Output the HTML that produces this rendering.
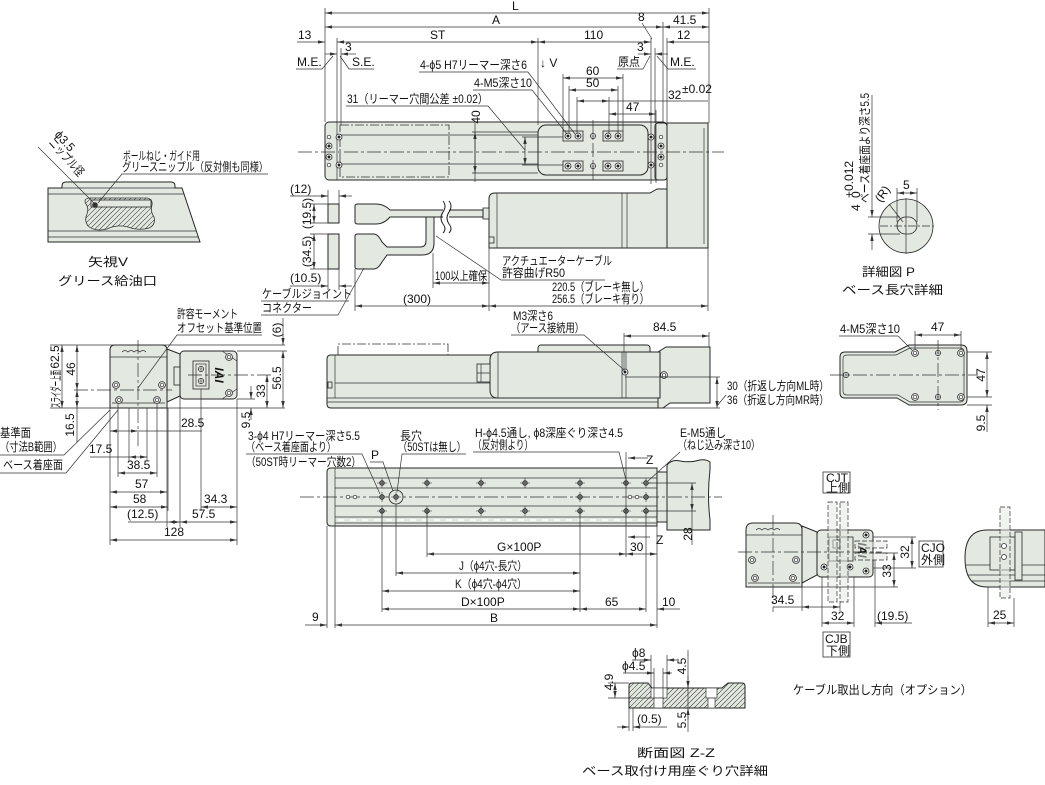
<!DOCTYPE html>
<html><head><meta charset="utf-8"><title>drawing</title>
<style>
html,body{margin:0;padding:0;background:#fff;}
svg{display:block;}
text{font-family:"Liberation Sans","Noto Sans CJK JP",sans-serif;font-size:12px;fill:#111;}
.o{fill:#e3e8e1;stroke:#262626;stroke-width:1;}
.o2{fill:#e3e8e1;stroke:#262626;stroke-width:0.8;}
.l{fill:none;stroke:#333;stroke-width:0.7;}
.k{fill:none;stroke:#222;stroke-width:1;}
.c{fill:none;stroke:#333;stroke-width:0.7;stroke-dasharray:14 3 3 3;}
.h{fill:#e3e8e1;fill-opacity:0.5;stroke:#333;stroke-width:0.7;stroke-dasharray:5 2;}
.d{fill:none;stroke:#333;stroke-width:0.7;marker-start:url(#a);marker-end:url(#a);}
.e{fill:none;stroke:#333;stroke-width:0.7;marker-end:url(#a);}
.bx{fill:#fff;stroke:#333;stroke-width:0.8;}
</style></head><body>
<svg width="1045" height="785" viewBox="0 0 1045 785" xmlns="http://www.w3.org/2000/svg">
<defs>
<marker id="a" viewBox="0 0 10 6" refX="10" refY="3" markerWidth="7" markerHeight="4.2" orient="auto-start-reverse" markerUnits="userSpaceOnUse"><path d="M0,0.6 L10,3 L0,5.4z" fill="#333"/></marker>
<clipPath id="cz"><path d="M629,708V686Q629,683 632,683H648L652,688H722L728,683H742Q745,683 745,686V708Z"/></clipPath>
<clipPath id="cv"><path d="M86,204Q83,199 89,198H147Q153,199 152,205Q150,211 154,217Q156,225 149,228Q139,231 128,227Q117,224 107,229Q95,232 88,226Q84,220 87,214Q89,208 86,204Z"/></clipPath>
<g id="p"><circle r="2.6" fill="#fff" stroke="#222" stroke-width="0.7"/><path d="M-2.6,0H2.6M0,-2.6V2.6" stroke="#222" stroke-width="0.6"/></g>
<g id="q"><circle r="3" fill="#fff" stroke="#222" stroke-width="0.8"/><circle r="1.5" fill="#222"/></g>
<g id="r"><circle r="3.4" fill="#fff" stroke="#222" stroke-width="0.8"/><circle r="1.8" fill="none" stroke="#222" stroke-width="0.7"/></g>
<g id="m"><path d="M-5,0H5M0,-5V5" stroke="#333" stroke-width="0.6"/><circle r="2.4" fill="#666" stroke="#222" stroke-width="0.6"/></g>
<g id="s"><circle r="1.8" fill="#fff" stroke="#222" stroke-width="0.7"/></g>
</defs>
<rect width="1045" height="785" fill="#fff"/>

<!-- ================= TOP VIEW ================= -->
<path class="o" d="M489,248V199Q489,193 495,193H650L657,189H667V248Z"/>
<path class="l" d="M497,193V248 M622,193V248 M627,193V248"/>
<rect class="o2" x="489" y="237" width="5" height="6"/>
<rect class="o2" x="483" y="208" width="6" height="11"/>
<rect class="o" x="667" y="123" width="41" height="125"/>
<path class="l" d="M704,128V244"/>
<rect class="o" x="325" y="122" width="342" height="58" rx="4"/>
<path class="l" d="M337,122V180 M337,135H538 M337,164H538 M651,118V184"/>
<rect x="340" y="125" width="109" height="52" fill="none" stroke="#333" stroke-width="0.8" stroke-dasharray="9 2 2 2"/>
<rect class="o" x="538" y="125" width="110" height="50" rx="8"/>
<rect class="o" x="655" y="123" width="12" height="57" rx="3"/>
<use href="#s" x="329" y="137"/><use href="#q" x="329" y="146"/><use href="#q" x="329" y="157"/><use href="#s" x="329" y="165"/>
<use href="#q" x="339" y="137"/><use href="#q" x="339" y="165"/>
<use href="#q" x="651" y="137"/><use href="#q" x="651" y="165"/>
<use href="#s" x="661" y="137"/><use href="#q" x="661" y="146"/><use href="#q" x="661" y="157"/><use href="#s" x="661" y="165"/>
<rect class="o2" x="563" y="131" width="20" height="10"/><use href="#q" x="568" y="136"/><use href="#q" x="578" y="136"/>
<rect class="o2" x="603" y="131" width="20" height="10"/><use href="#q" x="608" y="136"/><use href="#q" x="618" y="136"/>
<rect class="o2" x="563" y="161" width="20" height="10"/><use href="#q" x="568" y="166"/><use href="#q" x="578" y="166"/>
<rect class="o2" x="603" y="161" width="20" height="10"/><use href="#q" x="608" y="166"/><use href="#q" x="618" y="166"/>
<use href="#p" x="593" y="136"/><use href="#p" x="593" y="166"/>
<line class="c" x1="298" y1="152" x2="724" y2="152"/>
<line class="c" x1="593" y1="120" x2="593" y2="183"/>

<path class="l" d="M325,8V122 M709,8V123 M663,22V122 M337,38V122 M341,48V125 M538,38V125 M651,38V118 M655,48V123 M667,38V123"/>
<line class="d" x1="325" y1="13" x2="709" y2="13"/>
<line class="d" x1="325" y1="27" x2="663" y2="27"/>
<line class="d" x1="663" y1="27" x2="709" y2="27"/>
<line class="e" x1="297" y1="42" x2="325" y2="42"/>
<line class="d" x1="337" y1="42" x2="538" y2="42"/>
<line class="d" x1="538" y1="42" x2="651" y2="42"/>
<line class="e" x1="709" y1="42" x2="667" y2="42"/>
<line class="e" x1="325" y1="54" x2="337" y2="54"/>
<line class="e" x1="356" y1="54" x2="341" y2="54"/>
<line class="e" x1="638" y1="54" x2="651" y2="54"/>
<line class="e" x1="668" y1="54" x2="655" y2="54"/>
<text x="512" y="10">L</text>
<text x="492" y="24">A</text>
<text x="673" y="24">41.5</text>
<text x="638" y="21">8</text>
<path class="l" d="M642,23L652,39"/>
<text x="298" y="39">13</text>
<text x="430" y="39">ST</text>
<text x="584" y="39">110</text>
<text x="677" y="39">12</text>
<text x="345" y="51">3</text>
<text x="637" y="51">3</text>
<text x="297" y="66" font-size="11">M.E.</text>
<path class="l" d="M296,69H322L333,56"/>
<text x="352" y="66" font-size="11">S.E.</text>
<path class="l" d="M374,69H349L340,56"/>
<text x="618" y="66" textLength="22" lengthAdjust="spacingAndGlyphs">原点</text>
<path class="l" d="M617,69H643L650,56"/>
<text x="670" y="66" font-size="11">M.E.</text>
<path class="l" d="M696,69H668L657,56"/>
<text x="540" y="67" font-size="15">↓ V</text>
<text x="420" y="69" font-size="11.5" textLength="107" lengthAdjust="spacingAndGlyphs">4-ϕ5 H7リーマー深さ6</text>
<path class="l" d="M419,72H528L575,134"/>
<text x="474" y="87" font-size="11.5" textLength="58" lengthAdjust="spacingAndGlyphs">4-M5深さ10</text>
<path class="l" d="M473,90H532L567,134"/>
<text x="347" y="103" font-size="11.5" textLength="141" lengthAdjust="spacingAndGlyphs">31（リーマー穴間公差 ±0.02）</text>
<path class="l" d="M346,106H488L525,150"/>
<path class="l" d="M563,74V131 M623,74V131 M569,86V133 M618,86V133 M577,97V133 M609,97V133 M656,110V183"/>
<line class="d" x1="563" y1="78" x2="623" y2="78"/>
<text x="586" y="75">60</text>
<line class="d" x1="569" y1="90" x2="618" y2="90"/>
<text x="586" y="87">50</text>
<line class="d" x1="577" y1="101" x2="609" y2="101"/>
<path class="l" d="M609,101H708"/>
<text x="668" y="99">32</text><text x="682" y="93" font-size="6.5">±0.02</text>
<line class="d" x1="609" y1="114" x2="656" y2="114"/>
<text x="626" y="111">47</text>
<path class="l" d="M472,132H538 M472,173H538 M475,123V182"/>
<line class="d" x1="475" y1="132" x2="475" y2="173"/>
<text transform="translate(480,117) rotate(-90)" text-anchor="middle">40</text>
<path class="l" d="M522,137H563 M522,165H563"/>
<line class="d" x1="525" y1="137" x2="525" y2="165"/>

<!-- ================= CABLE / CONNECTORS ================= -->
<path class="o" d="M355,206Q355,204 358,204H376Q384,204 390,210H483V217H390Q384,224 376,224H358Q355,224 355,222Z"/>
<path class="o" d="M355,236Q355,234 358,234H374Q378,234 382,242L387,247H420Q426,247 426,241V217H434V243Q434,255 422,255H387L382,262Q378,269 374,269H358Q355,269 355,267Z"/>
<rect x="443" y="207" width="6" height="13" fill="#fff"/>
<path class="k" d="M443,201Q447,206 443,212Q439,218 443,224Q447,229 443,233 M449,201Q453,206 449,212Q445,218 449,224Q453,229 449,233"/>
<rect class="o" x="328" y="204" width="11" height="19"/>
<rect class="o" x="328" y="234" width="11" height="35"/>
<path class="l" d="M328,190V204 M339,190V204 M310,204H328 M310,223H328 M310,234H328 M310,269H328 M328,269V290 M339,269V290"/>
<line class="e" x1="290" y1="196" x2="328" y2="196"/>
<line class="e" x1="352" y1="196" x2="339" y2="196"/>
<text x="290" y="193">(12)</text>
<line class="d" x1="314" y1="204" x2="314" y2="223"/>
<line class="d" x1="314" y1="234" x2="314" y2="269"/>
<text transform="translate(311,213.5) rotate(-90)" text-anchor="middle" font-size="9">(19.5)</text>
<text transform="translate(311,251.5) rotate(-90)" text-anchor="middle">(34.5)</text>
<line class="e" x1="290" y1="286" x2="328" y2="286"/>
<line class="e" x1="352" y1="286" x2="339" y2="286"/>
<text x="290" y="282">(10.5)</text>
<text x="262" y="298" font-size="11.5" textLength="90" lengthAdjust="spacingAndGlyphs">ケーブルジョイント</text>
<text x="262" y="312" font-size="11.5" textLength="50" lengthAdjust="spacingAndGlyphs">コネクター</text>
<path class="l" d="M261,301H349 M261,315H338L364,268"/>
<path class="l" d="M433,253V288 M489,248V311 M708,248V311 M355,269V311"/>
<line class="d" x1="433" y1="283" x2="489" y2="283"/>
<text x="435" y="280" font-size="10" textLength="52" lengthAdjust="spacingAndGlyphs">100以上確保</text>
<text x="502" y="265" font-size="11.5" textLength="110" lengthAdjust="spacingAndGlyphs">アクチュエーターケーブル</text>
<text x="502" y="277" font-size="11.5" textLength="63" lengthAdjust="spacingAndGlyphs">許容曲げR50</text>
<path class="l" d="M605,280H501L436,236"/>
<line class="d" x1="355" y1="306" x2="489" y2="306"/>
<text x="403" y="303">(300)</text>
<line class="d" x1="489" y1="306" x2="708" y2="306"/>
<text x="552" y="291" font-size="11.5" textLength="97" lengthAdjust="spacingAndGlyphs">220.5（ブレーキ無し）</text>
<text x="552" y="303" font-size="11.5" textLength="97" lengthAdjust="spacingAndGlyphs">256.5（ブレーキ有り）</text>

<!-- ================= LOWER SIDE VIEW ================= -->
<path d="M338,355V344H448V355" fill="none" stroke="#333" stroke-width="0.8" stroke-dasharray="9 2 2 2"/>
<path class="o" d="M331,355H658V408H331Q327,408 327,404V359Q327,355 331,355Z"/>
<path class="l" d="M335,355V398 M335,383H490"/>
<rect class="o2" x="328" y="382" width="4" height="6"/>
<rect class="o" x="538" y="345" width="112" height="10" rx="3"/>
<path class="o" d="M658,352L666,347H710V403H670L663,408H658Z"/>
<path class="o" d="M498,352H660V398H498Q490,398 490,390V360Q490,352 498,352Z"/>
<path class="l" d="M498,352V398 M622,352V398 M626,352V398 M327,398H658 M327,402H658"/>
<rect class="o2" x="477" y="364" width="13" height="18"/>
<path class="l" d="M481,364V382 M477,373H490"/>
<use href="#q" x="625" y="372"/>
<use href="#r" x="664" y="375"/>
<path class="l" d="M624,333V372 M709,332V347 M625,377H720 M658,408H720"/>
<line class="d" x1="624" y1="336" x2="709" y2="336"/>
<text x="653" y="331">84.5</text>
<text x="513" y="320" font-size="11.5" textLength="40" lengthAdjust="spacingAndGlyphs">M3深さ6</text>
<text x="511" y="332" font-size="11.5" textLength="73" lengthAdjust="spacingAndGlyphs">（アース接続用）</text>
<path class="l" d="M511,335H584L623,369"/>
<line class="d" x1="717" y1="377" x2="717" y2="408"/>
<path class="l" d="M717,406L726,395"/>
<text x="727" y="390" font-size="11.5" textLength="102" lengthAdjust="spacingAndGlyphs">30（折返し方向ML時）</text>
<text x="727" y="404" font-size="11.5" textLength="102" lengthAdjust="spacingAndGlyphs">36（折返し方向MR時）</text>

<!-- ================= VIEW V ================= -->
<path class="o" d="M48,188H62V186Q62,182 66,182H171Q175,182 175,186V188H182L200,242H48Z"/>
<path class="l" d="M48,194H184 M48,231H196 M48,237H198 M62,188H175"/>
<path fill="#e3e8e1" d="M86,204Q83,199 89,198H147Q153,199 152,205Q150,211 154,217Q156,225 149,228Q139,231 128,227Q117,224 107,229Q95,232 88,226Q84,220 87,214Q89,208 86,204Z"/>
<g clip-path="url(#cv)"><path stroke="#444" stroke-width="0.6" fill="none" d="M50,234l36,-36M55,234l36,-36M60,234l36,-36M65,234l36,-36M70,234l36,-36M75,234l36,-36M80,234l36,-36M85,234l36,-36M90,234l36,-36M95,234l36,-36M100,234l36,-36M105,234l36,-36M110,234l36,-36M115,234l36,-36M120,234l36,-36M125,234l36,-36M130,234l36,-36M135,234l36,-36M140,234l36,-36M145,234l36,-36M150,234l36,-36"/></g>
<path fill="none" stroke="#333" stroke-width="0.8" d="M86,204Q83,199 89,198H147Q153,199 152,205Q150,211 154,217Q156,225 149,228Q139,231 128,227Q117,224 107,229Q95,232 88,226Q84,220 87,214Q89,208 86,204Z"/>
<rect class="o2" x="91" y="200" width="60" height="7"/>
<circle cx="95" cy="205" r="2.8" fill="#333"/>
<path class="l" d="M38,147L94,203 M268,174H122L98,203"/>
<text transform="translate(54,135) rotate(48)" font-size="10">ϕ3.5</text>
<text transform="translate(48,143) rotate(48)" font-size="10" textLength="46" lengthAdjust="spacingAndGlyphs">ニップル径</text>
<text x="123" y="160" font-size="11" textLength="77" lengthAdjust="spacingAndGlyphs">ボールねじ・ガイド用</text>
<text x="122" y="171" font-size="11" textLength="146" lengthAdjust="spacingAndGlyphs">グリースニップル（反対側も同様）</text>
<text x="88" y="266" font-size="15" textLength="40" lengthAdjust="spacingAndGlyphs">矢視V</text>
<text x="58" y="285" font-size="14.5" textLength="99" lengthAdjust="spacingAndGlyphs">グリース給油口</text>

<!-- ================= LEFT END VIEW ================= -->
<path class="o" d="M110,408V350Q110,345 115,345H162Q167,345 167,350V408Z"/>
<path class="l" d="M110,357H167 M112,403H165"/>
<path class="l" d="M122,352q3,-3 6,0q3,-3 6,0q3,-3 6,0q3,-3 6,0"/>
<path class="o" d="M167,349L180,354V396L167,402Z"/>
<rect class="o2" x="174" y="367" width="6" height="18"/>
<rect class="o" x="180" y="351" width="57" height="48" rx="4"/>
<path class="l" d="M222,351L237,361 M222,399L237,389"/>
<rect class="o2" x="193" y="361" width="16" height="28"/>
<rect x="196" y="364" width="10" height="22" fill="none" stroke="#333" stroke-width="0.7"/>
<use href="#p" x="201" y="369"/><use href="#p" x="201" y="381"/>
<text transform="translate(215,375) rotate(90)" text-anchor="middle" font-weight="bold" font-style="italic" font-size="9">IAI</text>
<use href="#r" x="229" y="357"/><use href="#r" x="229" y="393"/>
<use href="#r" x="116" y="385"/><use href="#r" x="162" y="385"/><use href="#r" x="119" y="400"/><use href="#r" x="157" y="400"/>
<line class="c" x1="138" y1="340" x2="138" y2="447"/>
<line class="c" x1="74" y1="390" x2="172" y2="390"/>
<line class="c" x1="188" y1="375" x2="272" y2="375"/>
<path class="l" d="M50,345H285 M50,408H110 M167,408H285 M237,351H287 M237,399H255"/>
<line class="d" x1="62" y1="345" x2="62" y2="408"/>
<line class="d" x1="77" y1="345" x2="77" y2="390"/>
<line class="d" x1="77" y1="390" x2="77" y2="408"/>
<line class="l" x1="77" y1="408" x2="77" y2="442"/>
<text transform="translate(59,357) rotate(-90)" text-anchor="middle" font-size="11">62.5</text>
<text transform="translate(60,389) rotate(-90)" text-anchor="middle" font-size="8.5" textLength="38" lengthAdjust="spacingAndGlyphs">スライダー上面</text>
<text transform="translate(75,369) rotate(-90)" text-anchor="middle">46</text>
<text transform="translate(74,425) rotate(-90)" text-anchor="middle">16.5</text>
<line class="e" x1="283" y1="318" x2="283" y2="345"/>
<line class="d" x1="283" y1="351" x2="283" y2="408"/>
<line class="d" x1="267" y1="375" x2="267" y2="408"/>
<line class="e" x1="251" y1="386" x2="251" y2="399"/>
<line class="e" x1="251" y1="420" x2="251" y2="408"/>
<text transform="translate(281,330) rotate(-90)" text-anchor="middle" font-size="10">(6)</text>
<text transform="translate(281,378) rotate(-90)" text-anchor="middle">56.5</text>
<text transform="translate(265,391) rotate(-90)" text-anchor="middle">33</text>
<text transform="translate(250,420) rotate(-90)" text-anchor="middle">9.5</text>
<text x="177" y="318" font-size="11" textLength="61" lengthAdjust="spacingAndGlyphs">許容モーメント</text>
<text x="177" y="332" font-size="11" textLength="85" lengthAdjust="spacingAndGlyphs">オフセット基準位置</text>
<path class="l" d="M262,335H177L138,388"/>
<text x="0" y="437" font-size="11.5" textLength="31" lengthAdjust="spacingAndGlyphs">基準面</text>
<text x="0" y="451" font-size="11.5" textLength="62" lengthAdjust="spacingAndGlyphs">（寸法B範囲）</text>
<path class="l" d="M0,455H64L110,410"/>
<text x="3" y="469" font-size="11.5" textLength="60" lengthAdjust="spacingAndGlyphs">ベース着座面</text>
<path class="l" d="M0,473H66L118,410"/>
<path class="l" d="M110,408V545 M118,403V477 M129,408V461 M147,408V461 M157,403V477 M167,408V527 M168,408V511 M180,396V527 M201,389V511 M237,399V545"/>
<line class="d" x1="110" y1="431" x2="138" y2="431"/>
<path class="l" d="M138,431H202"/>
<text x="181" y="427">28.5</text>
<path class="l" d="M90,457H129"/>
<line class="d" x1="129" y1="457" x2="147" y2="457"/>
<text x="89" y="453">17.5</text>
<line class="d" x1="118" y1="473" x2="157" y2="473"/>
<text x="127" y="469">38.5</text>
<line class="d" x1="110" y1="492" x2="167" y2="492"/>
<text x="135" y="488">57</text>
<line class="d" x1="110" y1="507" x2="168" y2="507"/>
<text x="133" y="503">58</text>
<line class="d" x1="201" y1="507" x2="237" y2="507"/>
<text x="204" y="503">34.3</text>
<path class="l" d="M128,522H168"/>
<line class="d" x1="168" y1="522" x2="180" y2="522"/>
<text x="127" y="518">(12.5)</text>
<line class="d" x1="180" y1="522" x2="237" y2="522"/>
<text x="192" y="518">57.5</text>
<line class="d" x1="110" y1="540" x2="237" y2="540"/>
<text x="164" y="536">128</text>

<!-- ================= BOTTOM VIEW ================= -->
<path class="o" d="M667,530V465Q672,459 680,461Q690,463 700,460Q706,459 710,462V470Q707,495 710,520V530Z"/>
<rect class="o" x="657" y="472" width="10" height="50"/>
<path class="o" d="M331,468H657V526H331Q327,526 327,522V472Q327,468 331,468Z"/>
<path class="l" d="M335,468V526 M335,478H657 M335,488H657 M335,506H657 M335,517H657 M335,523H657"/>
<line x1="338" y1="520" x2="655" y2="520" stroke="#fff" stroke-width="1.6" stroke-dasharray="6 6"/>
<line class="c" x1="300" y1="497" x2="722" y2="497"/>
<use href="#m" x="382" y="483"/><use href="#m" x="427" y="483"/><use href="#m" x="481" y="483"/><use href="#m" x="525" y="483"/><use href="#m" x="580" y="483"/><use href="#m" x="626" y="483"/><use href="#m" x="646" y="483"/>
<use href="#m" x="382" y="511"/><use href="#m" x="427" y="511"/><use href="#m" x="481" y="511"/><use href="#m" x="525" y="511"/><use href="#m" x="580" y="511"/><use href="#m" x="626" y="511"/><use href="#m" x="646" y="511"/>
<use href="#s" x="348" y="497"/><use href="#s" x="355" y="497"/><use href="#s" x="630" y="497"/><use href="#s" x="637" y="497"/>
<use href="#m" x="382" y="497"/><use href="#m" x="580" y="497"/><use href="#m" x="646" y="497"/>
<circle cx="396" cy="497" r="7" fill="#e3e8e1" stroke="#222" stroke-width="0.8"/>
<use href="#m" x="396" y="497"/>
<path class="l" d="M382,511V612 M396,504V576 M427,511V557 M580,511V612 M646,511V612 M657,526V628 M327,526V628 M335,526V628"/>
<path class="l" d="M626,452V557"/>
<line class="e" x1="648" y1="458" x2="628" y2="458"/>
<line class="e" x1="650" y1="537" x2="628" y2="537"/>
<text x="646" y="464" font-size="17">Z</text>
<text x="656" y="544" font-size="17">Z</text>
<path class="l" d="M648,483H696 M648,511H696"/>
<line class="d" x1="692" y1="483" x2="692" y2="511"/>
<line class="l" x1="692" y1="511" x2="692" y2="545"/>
<text transform="translate(692,534) rotate(-90)" text-anchor="middle">28</text>
<line class="d" x1="427" y1="554" x2="626" y2="554"/>
<text x="497" y="551">G×100P</text>
<line class="d" x1="626" y1="554" x2="657" y2="554"/>
<text x="630" y="551">30</text>
<line class="d" x1="396" y1="573" x2="580" y2="573"/>
<text x="459" y="570" textLength="68" lengthAdjust="spacingAndGlyphs">J（ϕ4穴-長穴）</text>
<line class="d" x1="382" y1="591" x2="580" y2="591"/>
<text x="455" y="588" textLength="72" lengthAdjust="spacingAndGlyphs">K（ϕ4穴-ϕ4穴）</text>
<line class="d" x1="382" y1="609" x2="580" y2="609"/>
<text x="461" y="606">D×100P</text>
<line class="d" x1="580" y1="609" x2="646" y2="609"/>
<text x="605" y="606">65</text>
<line class="e" x1="680" y1="609" x2="657" y2="609"/>
<text x="662" y="606">10</text>
<line class="d" x1="335" y1="625" x2="657" y2="625"/>
<text x="490" y="622">B</text>
<line class="e" x1="305" y1="625" x2="327" y2="625"/>
<text x="312" y="621">9</text>
<text x="248" y="440" font-size="11.5" textLength="112" lengthAdjust="spacingAndGlyphs">3-ϕ4 H7リーマー深さ5.5</text>
<text x="246" y="451" font-size="11.5" textLength="90" lengthAdjust="spacingAndGlyphs">（ベース着座面より）</text>
<path class="l" d="M246,454H336"/>
<text x="246" y="466" font-size="11.5" textLength="115" lengthAdjust="spacingAndGlyphs">（50ST時リーマー穴数2）</text>
<path class="l" d="M336,454H362L380,494"/>
<text x="371" y="459" font-size="17">P</text>
<path class="l" d="M370,462H383L393,491"/>
<text x="400" y="440" font-size="11.5" textLength="22" lengthAdjust="spacingAndGlyphs">長穴</text>
<text x="398" y="451" font-size="11.5" textLength="68" lengthAdjust="spacingAndGlyphs">（50STは無し）</text>
<path class="l" d="M466,454H402L397,492"/>
<text x="475" y="437" font-size="11.5" textLength="148" lengthAdjust="spacingAndGlyphs">H-ϕ4.5通し, ϕ8深座ぐり深さ4.5</text>
<text x="473" y="449" font-size="11.5" textLength="60" lengthAdjust="spacingAndGlyphs">（反対側より）</text>
<path class="l" d="M473,452H619L626,480"/>
<text x="680" y="437" font-size="11.5" textLength="46" lengthAdjust="spacingAndGlyphs">E-M5通し</text>
<text x="678" y="449" font-size="11.5" textLength="82" lengthAdjust="spacingAndGlyphs">（ねじ込み深さ10）</text>
<path class="l" d="M680,452L648,481"/>

<!-- ================= DETAIL P ================= -->
<circle cx="906" cy="226" r="27" class="o2"/>
<rect x="897" y="217" width="20" height="17" rx="8.5" fill="#e3e8e1" stroke="#222" stroke-width="0.8"/>
<line class="l" x1="906" y1="198" x2="906" y2="254"/>
<line class="c" x1="880" y1="226" x2="934" y2="226" style="stroke-dasharray:8 2 2 2"/>
<path class="l" d="M897,188V222 M917,188V222 M868,217H900 M868,234H900"/>
<line class="d" x1="897" y1="193" x2="917" y2="193"/>
<text x="903" y="189">5</text>
<line class="l" x1="872" y1="95" x2="872" y2="200"/>
<line class="e" x1="872" y1="200" x2="872" y2="217"/>
<line class="e" x1="872" y1="250" x2="872" y2="234"/>
<text transform="translate(869,203) rotate(-90)" font-size="10.5" textLength="110" lengthAdjust="spacingAndGlyphs">ベース着座面より深さ5.5</text>
<text transform="translate(860,211) rotate(-90)">4</text>
<text transform="translate(853,198) rotate(-90)" font-size="6">+0.012</text>
<text transform="translate(860,198) rotate(-90)" font-size="6">0</text>
<text transform="translate(881,203) rotate(-55)" font-size="9">(R)</text>
<path class="l" d="M889,204L903,222"/>
<text x="862" y="276" font-size="14" textLength="53" lengthAdjust="spacingAndGlyphs">詳細図 P</text>
<text x="842" y="294" font-size="14.5" textLength="101" lengthAdjust="spacingAndGlyphs">ベース長穴詳細</text>

<!-- ================= RIGHT END VIEW ================= -->
<path class="o" d="M845,352H895L909,345H961Q967,345 967,351V399Q967,405 961,405H909L897,398H845Q840,398 840,393V357Q840,352 845,352Z"/>
<path class="l" d="M847,355H896L910,348H960Q964,348 964,352V398Q964,402 960,402H910L898,395H847Q843,395 843,391V359Q843,355 847,355Z"/>
<use href="#r" x="915" y="353"/><use href="#r" x="961" y="353"/><use href="#r" x="915" y="397"/><use href="#r" x="961" y="397"/>
<use href="#p" x="938" y="353"/><use href="#p" x="938" y="397"/><use href="#p" x="846" y="375"/>
<line class="c" x1="830" y1="375" x2="978" y2="375"/>
<line class="c" x1="938" y1="340" x2="938" y2="410"/>
<path class="l" d="M915,331V349 M961,331V349 M967,352H992 M967,397H992 M967,405H992"/>
<line class="d" x1="915" y1="335" x2="961" y2="335"/>
<text x="931" y="331">47</text>
<line class="d" x1="987" y1="352" x2="987" y2="397"/>
<line class="e" x1="987" y1="432" x2="987" y2="405"/>
<text transform="translate(985,375) rotate(-90)" text-anchor="middle">47</text>
<text transform="translate(985,423) rotate(-90)" text-anchor="middle">9.5</text>
<text x="840" y="333" font-size="11.5" textLength="60" lengthAdjust="spacingAndGlyphs">4-M5深さ10</text>
<path class="l" d="M839,336H898L912,350"/>

<!-- ================= CABLE OPTION VIEW ================= -->
<path class="o" d="M746,587V530Q746,523 753,523H795Q802,523 802,530V587Z"/>
<path class="l" d="M746,535H802 M748,583H800"/>
<path class="l" d="M756,530q3,-3 6,0q3,-3 6,0q3,-3 6,0q3,-3 6,0"/>
<path class="o" d="M802,526L817,532V575L802,583Z"/>
<rect class="o" x="817" y="530" width="56" height="47" rx="4"/>
<rect class="o2" x="829" y="537" width="24" height="24"/>
<rect class="o2" x="833" y="540" width="7" height="8"/>
<text transform="translate(858,550) rotate(90)" text-anchor="middle" font-weight="bold" font-style="italic" font-size="8">IAI</text>
<use href="#r" x="752" y="560"/><use href="#r" x="796" y="560"/><use href="#r" x="755" y="578"/><use href="#r" x="793" y="578"/>
<use href="#q" x="866" y="535"/><use href="#q" x="866" y="571"/><use href="#q" x="824" y="567"/><use href="#q" x="850" y="567"/>
<rect class="h" x="828" y="502" width="9" height="100"/>
<rect class="h" x="840" y="502" width="8" height="100"/>
<rect class="h" x="855" y="541" width="32" height="7"/>
<rect class="h" x="855" y="553" width="32" height="7"/>
<line class="c" x1="738" y1="552" x2="882" y2="552"/>
<line class="c" x1="773" y1="515" x2="773" y2="612"/>
<rect class="bx" x="823" y="472" width="27" height="21"/>
<text x="826" y="482" font-size="10">CJT</text><text x="826" y="492" font-size="10">上側</text>
<rect class="bx" x="823" y="632" width="27" height="25"/>
<text x="825" y="643" font-size="10">CJB</text><text x="826" y="655" font-size="10">下側</text>
<rect class="bx" x="919" y="541" width="24" height="26"/>
<text x="921" y="552" font-size="10">CJO</text><text x="921" y="564" font-size="10">外側</text>
<path class="l" d="M873,537H916 M873,568H916 M875,553H898 M802,587H898"/>
<line class="d" x1="912" y1="537" x2="912" y2="568"/>
<text transform="translate(909,552) rotate(-90)" text-anchor="middle">32</text>
<line class="d" x1="894" y1="553" x2="894" y2="587"/>
<text transform="translate(891,571) rotate(-90)" text-anchor="middle">33</text>
<path class="l" d="M802,587V611 M840,602V611 M822,577V627 M854,577V627 M875,560V627 M773,607H802"/>
<line class="d" x1="802" y1="607" x2="840" y2="607"/>
<text x="771" y="604">34.5</text>
<line class="d" x1="822" y1="623" x2="854" y2="623"/>
<text x="831" y="620">32</text>
<line class="e" x1="912" y1="623" x2="875" y2="623"/>
<text x="877" y="620">(19.5)</text>
<path class="o" d="M1045,530H987Q965,530 965,558Q965,587 987,587H1045Z"/>
<path class="l" d="M966,565H1045 M968,575H1045 M972,581H1045"/>
<rect class="o2" x="990" y="537" width="25" height="33"/>
<rect class="o2" x="1015" y="532" width="7" height="48"/>
<rect class="h" x="1000" y="507" width="10" height="91"/>
<circle cx="1004" cy="546" r="2.5" fill="#fff" stroke="#222" stroke-width="0.7"/>
<circle cx="1004" cy="557" r="2.5" fill="#fff" stroke="#222" stroke-width="0.7"/>
<path class="l" d="M988,587V627 M1014,598V627"/>
<line class="d" x1="988" y1="623" x2="1014" y2="623"/>
<text x="993" y="619">25</text>
<text x="793" y="694" font-size="13" textLength="179" lengthAdjust="spacingAndGlyphs">ケーブル取出し方向（オプション）</text>

<!-- ================= SECTION Z-Z ================= -->
<path fill="#e3e8e1" d="M629,708V686Q629,683 632,683H648L652,688H722L728,683H742Q745,683 745,686V708Z"/>
<g clip-path="url(#cz)"><path stroke="#444" stroke-width="0.6" fill="none" d="M600,712l32,-32M605,712l32,-32M610,712l32,-32M615,712l32,-32M620,712l32,-32M625,712l32,-32M630,712l32,-32M635,712l32,-32M640,712l32,-32M645,712l32,-32M650,712l32,-32M655,712l32,-32M660,712l32,-32M665,712l32,-32M670,712l32,-32M675,712l32,-32M680,712l32,-32M685,712l32,-32M690,712l32,-32M695,712l32,-32M700,712l32,-32M705,712l32,-32M710,712l32,-32M715,712l32,-32M720,712l32,-32M725,712l32,-32M730,712l32,-32M735,712l32,-32M740,712l32,-32M745,712l32,-32"/></g>
<path fill="none" stroke="#222" stroke-width="1" d="M629,708V686Q629,683 632,683H648L652,688H722L728,683H742Q745,683 745,686V708Z"/>
<rect x="651" y="688" width="16" height="10" fill="#fff" stroke="#333" stroke-width="0.7"/>
<rect x="654" y="698" width="9" height="10" fill="#fff" stroke="#333" stroke-width="0.7"/>
<rect x="706" y="688" width="11" height="10" fill="#fff" stroke="#333" stroke-width="0.7"/>
<rect x="708" y="698" width="7" height="10" fill="#fff" stroke="#333" stroke-width="0.7"/>
<path class="l" d="M651,655V688 M667,655V688 M654,668V698 M663,668V698"/>
<path class="l" d="M632,660H651 M667,660H675 M623,673H654 M663,673H670"/>
<line class="e" x1="640" y1="660" x2="651" y2="660"/>
<line class="e" x1="677" y1="660" x2="667" y2="660"/>
<line class="e" x1="645" y1="673" x2="654" y2="673"/>
<line class="e" x1="672" y1="673" x2="663" y2="673"/>
<text x="632" y="657" font-size="10.5">ϕ8</text>
<text x="622" y="670" font-size="10.5">ϕ4.5</text>
<path class="l" d="M608,683H629 M608,698H651"/>
<line class="d" x1="615" y1="683" x2="615" y2="698"/>
<text transform="translate(613,682) rotate(-90)" text-anchor="middle" font-size="10.5">4.9</text>
<path class="l" d="M629,708V731 M633,708V731 M688,650V732"/>
<line class="e" x1="617" y1="727" x2="629" y2="727"/>
<line class="e" x1="645" y1="727" x2="633" y2="727"/>
<path class="l" d="M645,727H667"/>
<text x="637" y="723" font-size="10.5">(0.5)</text>
<line class="e" x1="688" y1="676" x2="688" y2="688"/>
<line class="e" x1="688" y1="720" x2="688" y2="708"/>
<text transform="translate(686,666) rotate(-90)" text-anchor="middle" font-size="10.5">4.5</text>
<text transform="translate(686,720) rotate(-90)" text-anchor="middle" font-size="10.5">5.5</text>
<text x="637" y="757" font-size="14" textLength="78" lengthAdjust="spacingAndGlyphs">断面図 Z-Z</text>
<text x="582" y="775" font-size="14.5" textLength="186" lengthAdjust="spacingAndGlyphs">ベース取付け用座ぐり穴詳細</text>
</svg>
</body></html>
